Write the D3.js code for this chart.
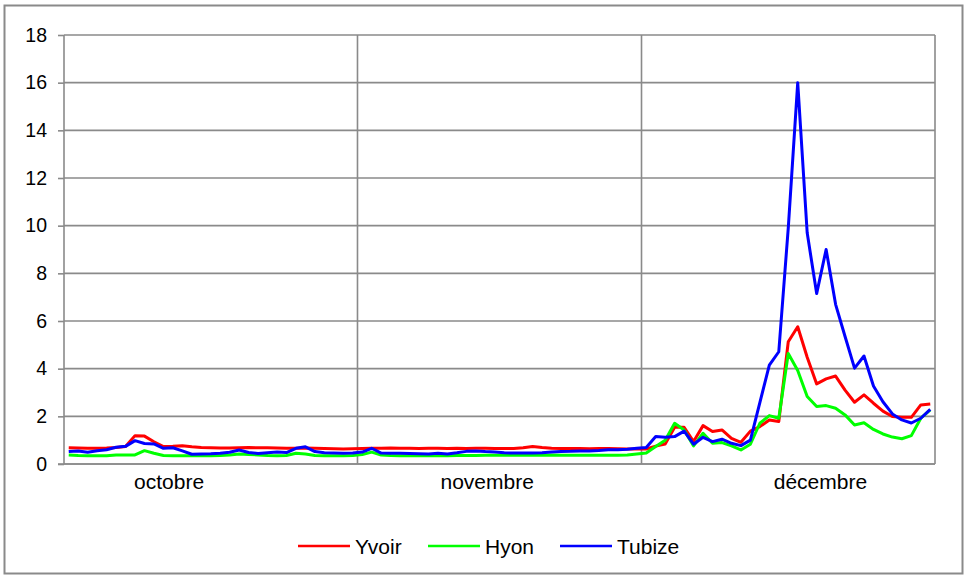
<!DOCTYPE html>
<html>
<head>
<meta charset="utf-8">
<script src="https://cdn.jsdelivr.net/npm/d3@7"></script>
<style>
  body { margin: 0; background: #fff; }
  svg { display: block; font-family: "Liberation Sans", Arial, sans-serif; }
</style>
</head>
<body>
<svg width="968" height="578"></svg>
<script>
// months on the category axis and how many daily points each one holds
const months = ['octobre', 'novembre', 'décembre'];
const monthDays = [31, 30, 31];
const yTicks = [0, 2, 4, 6, 8, 10, 12, 14, 16, 18];

// daily values, 1 oct -> 31 dec
const yvoir = [
  0.68, 0.67, 0.66, 0.66, 0.67, 0.69, 0.73, 1.19, 1.17, 0.93, 0.73, 0.74, 0.77, 0.72, 0.69, 0.68,
  0.67, 0.67, 0.68, 0.69, 0.68, 0.68, 0.67, 0.66, 0.66, 0.67, 0.66, 0.65, 0.64, 0.63, 0.64,
  0.65, 0.66, 0.66, 0.67, 0.66, 0.66, 0.65, 0.66, 0.66, 0.65, 0.66, 0.65, 0.66, 0.66, 0.65,
  0.65, 0.65, 0.68, 0.73, 0.69, 0.66, 0.65, 0.65, 0.65, 0.64, 0.65, 0.65, 0.64, 0.63, 0.63,
  0.63, 0.75, 0.84, 1.54, 1.54, 0.94, 1.61, 1.36, 1.43, 1.08, 0.91, 1.38, 1.57, 1.85, 1.78, 5.13,
  5.76, 4.48, 3.36, 3.57, 3.69, 3.10, 2.59, 2.90, 2.55, 2.22, 1.99, 1.96, 1.96, 2.48, 2.52
];
const hyon = [
  0.38, 0.36, 0.35, 0.35, 0.35, 0.38, 0.38, 0.38, 0.56, 0.45, 0.36, 0.35, 0.35, 0.35, 0.35, 0.35,
  0.36, 0.38, 0.42, 0.40, 0.38, 0.36, 0.35, 0.36, 0.45, 0.42, 0.36, 0.35, 0.35, 0.35, 0.36,
  0.40, 0.50, 0.38, 0.36, 0.35, 0.35, 0.35, 0.36, 0.35, 0.35, 0.36, 0.36, 0.36, 0.37, 0.37,
  0.37, 0.37, 0.37, 0.37, 0.37, 0.38, 0.37, 0.37, 0.37, 0.37, 0.37, 0.37, 0.37, 0.38, 0.42,
  0.46, 0.73, 1.00, 1.71, 1.43, 0.76, 1.29, 0.87, 0.90, 0.76, 0.59, 0.83, 1.71, 2.03, 1.92, 4.64,
  3.92, 2.83, 2.41, 2.45, 2.34, 2.06, 1.64, 1.73, 1.45, 1.26, 1.13, 1.06, 1.19, 1.92, 2.27
];
const tubize = [
  0.52, 0.55, 0.49, 0.56, 0.60, 0.70, 0.74, 0.98, 0.86, 0.84, 0.66, 0.68, 0.55, 0.41, 0.42, 0.43,
  0.45, 0.49, 0.59, 0.48, 0.44, 0.47, 0.50, 0.48, 0.66, 0.72, 0.52, 0.47, 0.46, 0.45, 0.46,
  0.50, 0.66, 0.46, 0.45, 0.45, 0.44, 0.43, 0.42, 0.45, 0.42, 0.47, 0.53, 0.55, 0.52, 0.50,
  0.47, 0.46, 0.46, 0.46, 0.47, 0.50, 0.52, 0.53, 0.55, 0.55, 0.57, 0.60, 0.60, 0.62, 0.66,
  0.69, 1.15, 1.12, 1.15, 1.38, 0.83, 1.12, 0.94, 1.04, 0.87, 0.77, 1.00, 2.58, 4.15, 4.71, 9.90,
  16.0, 9.70, 7.15, 9.00, 6.70, 5.35, 4.02, 4.53, 3.27, 2.61, 2.10, 1.85, 1.72, 1.92, 2.29
];

const seriesNames = ['Yvoir', 'Hyon', 'Tubize'];
const seriesColors = ['#ff0000', '#00ff00', '#0000ff'];
const seriesValues = [yvoir, hyon, tubize];

// where each month name sits, in days from the start of that month
const labelOffset = [11.1, 13.7, 18.9];

const svg = d3.select('svg');
const grey = '#8a8a8a';
const plot = { left: 64, right: 935, top: 35, bottom: 464 };

svg.append('rect')
  .attr('x', 4.5).attr('y', 5.5).attr('width', 958).attr('height', 568)
  .attr('fill', 'none').attr('stroke', grey).attr('stroke-width', 2);

const nDays = d3.sum(monthDays);
const x = d3.scaleLinear().domain([0, nDays]).range([plot.left, plot.right]);
const y = d3.scaleLinear().domain([0, 18]).range([plot.bottom, plot.top]);
const monthStarts = Array.from(d3.cumsum([0].concat(monthDays))).slice(0, months.length);

// horizontal grid
svg.append('g')
  .selectAll('line').data(yTicks).join('line')
  .attr('x1', plot.left).attr('x2', plot.right)
  .attr('y1', d => y(d)).attr('y2', d => y(d))
  .attr('stroke', grey).attr('stroke-width', 1.6);

// month separators and plot edges
svg.append('g')
  .selectAll('line').data(monthStarts.slice(1).concat([nDays])).join('line')
  .attr('x1', d => x(d)).attr('x2', d => x(d))
  .attr('y1', plot.top).attr('y2', plot.bottom)
  .attr('stroke', grey).attr('stroke-width', 1.6);

const yAxis = d3.axisLeft(y).tickValues(yTicks).tickSize(6).tickPadding(11);
const gy = svg.append('g').attr('transform', `translate(${plot.left},0)`).call(yAxis);
gy.select('.domain').attr('stroke', grey).attr('stroke-width', 1.6).attr('d', `M0,${plot.top}V${plot.bottom}`);
gy.selectAll('.tick line').attr('stroke', grey).attr('stroke-width', 1.6);
gy.selectAll('.tick text')
  .attr('font-size', 19.5).attr('fill', '#000')
  .attr('font-family', '"Liberation Sans", Arial, sans-serif');

svg.append('line')
  .attr('x1', plot.left - 6).attr('x2', plot.right)
  .attr('y1', plot.bottom).attr('y2', plot.bottom)
  .attr('stroke', grey).attr('stroke-width', 1.6);

svg.append('g')
  .selectAll('text').data(months).join('text')
  .attr('x', (d, i) => x(monthStarts[i] + labelOffset[i]))
  .attr('y', 489)
  .attr('text-anchor', 'middle')
  .attr('font-size', 21)
  .text(d => d);

const line = d3.line()
  .x((d, i) => x(i + 0.5))
  .y(d => y(d));

svg.append('g')
  .selectAll('path').data(seriesValues).join('path')
  .attr('d', d => line(d))
  .attr('fill', 'none')
  .attr('stroke', (d, i) => seriesColors[i])
  .attr('stroke-width', 3)
  .attr('stroke-linejoin', 'round');

// legend
const legendX = [298, 428, 560];
const lg = svg.append('g').selectAll('g').data(seriesNames).join('g')
  .attr('transform', (d, i) => `translate(${legendX[i]},546)`);
lg.append('line')
  .attr('x1', 0).attr('x2', 52)
  .attr('stroke', (d, i) => seriesColors[i]).attr('stroke-width', 2.5);
lg.append('text')
  .attr('x', 57).attr('y', 7.5)
  .attr('font-size', 21)
  .text(d => d);
</script>
</body>
</html>
